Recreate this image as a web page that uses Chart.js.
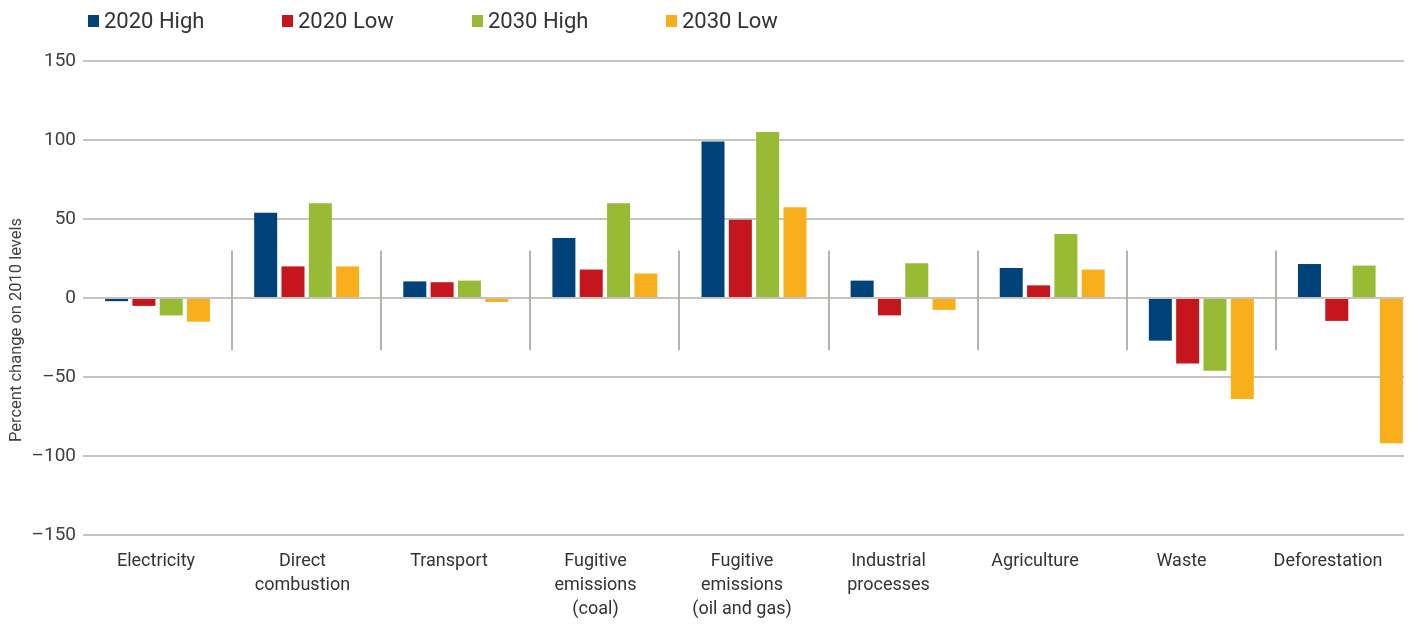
<!DOCTYPE html>
<html>
<head>
<meta charset="utf-8">
<script src="https://cdn.jsdelivr.net/npm/chart.js@4.4.1/dist/chart.umd.min.js"></script>
<style>
  html, body { margin: 0; padding: 0; background: #fff; width: 1410px; height: 625px; overflow: hidden; }
  #wrap { position: relative; width: 1425px; height: 625px; }
  #legend { position: absolute; left: 0; top: 0; width: 1410px; height: 44px; font-family: Roboto, "Liberation Sans", sans-serif; }
  .item { position: absolute; top: 8px; display: flex; align-items: center; font-size: 22px; color: #333; white-space: nowrap; }
  .box { width: 11px; height: 12px; margin-right: 5px; }
</style>
</head>
<body>
<div id="wrap">
  <canvas id="c"></canvas>
  <div id="legend"></div>
</div>
<script>
const categories = ["Electricity", "Direct combustion", "Transport", "Fugitive emissions (coal)", "Fugitive emissions (oil and gas)", "Industrial processes", "Agriculture", "Waste", "Deforestation"];
const categoryLines = [["Electricity"], ["Direct", "combustion"], ["Transport"], ["Fugitive", "emissions", "(coal)"], ["Fugitive", "emissions", "(oil and gas)"], ["Industrial", "processes"], ["Agriculture"], ["Waste"], ["Deforestation"]];
const seriesNames = ["2020 High", "2020 Low", "2030 High", "2030 Low"];
const high2020 = [-2, 54, 10.5, 38, 99, 11, 19, -27, 21.5];
const low2020 = [-5, 20, 10, 18, 49.5, -11, 8, -41.5, -14.5];
const high2030 = [-11, 60, 11, 60, 105, 22, 40.5, -46, 20.5];
const low2030 = [-15, 20, -2.5, 15.5, 57.5, -7.5, 18, -64, -92];
const yTicks = [-150, -100, -50, 0, 50, 100, 150];
const colors = ["#00427a", "#c4161c", "#97bb34", "#f9af1b"];
const FONT = 'Roboto, "Liberation Sans", sans-serif';

const seriesValues = [high2020, low2020, high2030, low2030];

const legendLeft = [88, 282, 472, 666];
const legendEl = document.getElementById('legend');
seriesNames.forEach((n, i) => {
  const d = document.createElement('div');
  d.className = 'item';
  d.style.left = legendLeft[i] + 'px';
  d.innerHTML = '<span class="box" style="background:' + colors[i] + '"></span><span>' + n + '</span>';
  legendEl.appendChild(d);
});

const separatorPlugin = {
  id: 'separators',
  beforeDatasetsDraw(chart) {
    const x = chart.scales.x, y = chart.scales.y, ctx = chart.ctx;
    ctx.save();
    ctx.strokeStyle = '#b4b4ac';
    ctx.lineWidth = 2;
    const top = y.getPixelForValue(30), bot = y.getPixelForValue(-33);
    for (let i = 0; i < categories.length - 1; i++) {
      const px = Math.round((x.getPixelForValue(i) + x.getPixelForValue(i + 1)) / 2);
      ctx.beginPath();
      ctx.moveTo(px, top);
      ctx.lineTo(px, bot);
      ctx.stroke();
    }
    ctx.restore();
  },
  afterDraw(chart) {
    const ctx = chart.ctx;
    ctx.save();
    ctx.translate(17, 330);
    ctx.rotate(-Math.PI / 2);
    ctx.fillStyle = '#404040';
    ctx.font = '16.5px ' + FONT;
    ctx.textAlign = 'center';
    ctx.textBaseline = 'middle';
    ctx.fillText('Percent change on 2010 levels', 0, 0);
    ctx.restore();
    // crop at the right edge like the reference
    ctx.save();
    ctx.fillStyle = '#fff';
    ctx.fillRect(1404, 0, 40, chart.height);
    ctx.restore();
  }
};

new Chart(document.getElementById('c'), {
  type: 'bar',
  data: {
    labels: categories,
    datasets: seriesNames.map((n, i) => ({
      label: n,
      data: seriesValues[i],
      backgroundColor: colors[i],
      borderWidth: 0,
      categoryPercentage: 0.733,
      barPercentage: 0.842,
      xAxisID: 'x',
      yAxisID: 'y'
    }))
  },
  options: {
    responsive: true,
    maintainAspectRatio: false,
    animation: false,
    layout: { padding: { left: 0, right: 0, top: 61, bottom: 0 } },
    plugins: { legend: { display: false }, tooltip: { enabled: false } },
    scales: {
      x: { type: 'category', display: false },
      xl: {
        type: 'linear',
        position: 'bottom',
        offset: false,
        bounds: 'data',
        min: -0.4983,
        max: 8.662,
        afterBuildTicks(scale) { scale.ticks = categories.map((c, i) => ({ value: i })); },
        afterFit(scale) { scale.height = 90; },
        grid: { display: false, drawTicks: false, offset: false },
        border: { display: false },
        ticks: {
          autoSkip: false,
          maxRotation: 0,
          padding: 15,
          color: '#333',
          font: { family: FONT, size: 18, lineHeight: 1.33 },
          callback: (v) => categoryLines[v]
        }
      },
      y: {
        min: -150,
        max: 150,
        afterBuildTicks(scale) { scale.ticks = yTicks.map(v => ({ value: v })); },
        afterFit(scale) { scale.width = 83; },
        grid: { color: '#c4c4bc', lineWidth: 2, drawTicks: false },
        border: { display: false },
        ticks: {
          padding: 7,
          color: '#404040',
          font: { family: FONT, size: 19 },
          callback: (v) => v < 0 ? '\u2013' + Math.abs(v) : String(v)
        }
      }
    }
  },
  plugins: [separatorPlugin]
});
</script>
</body>
</html>
